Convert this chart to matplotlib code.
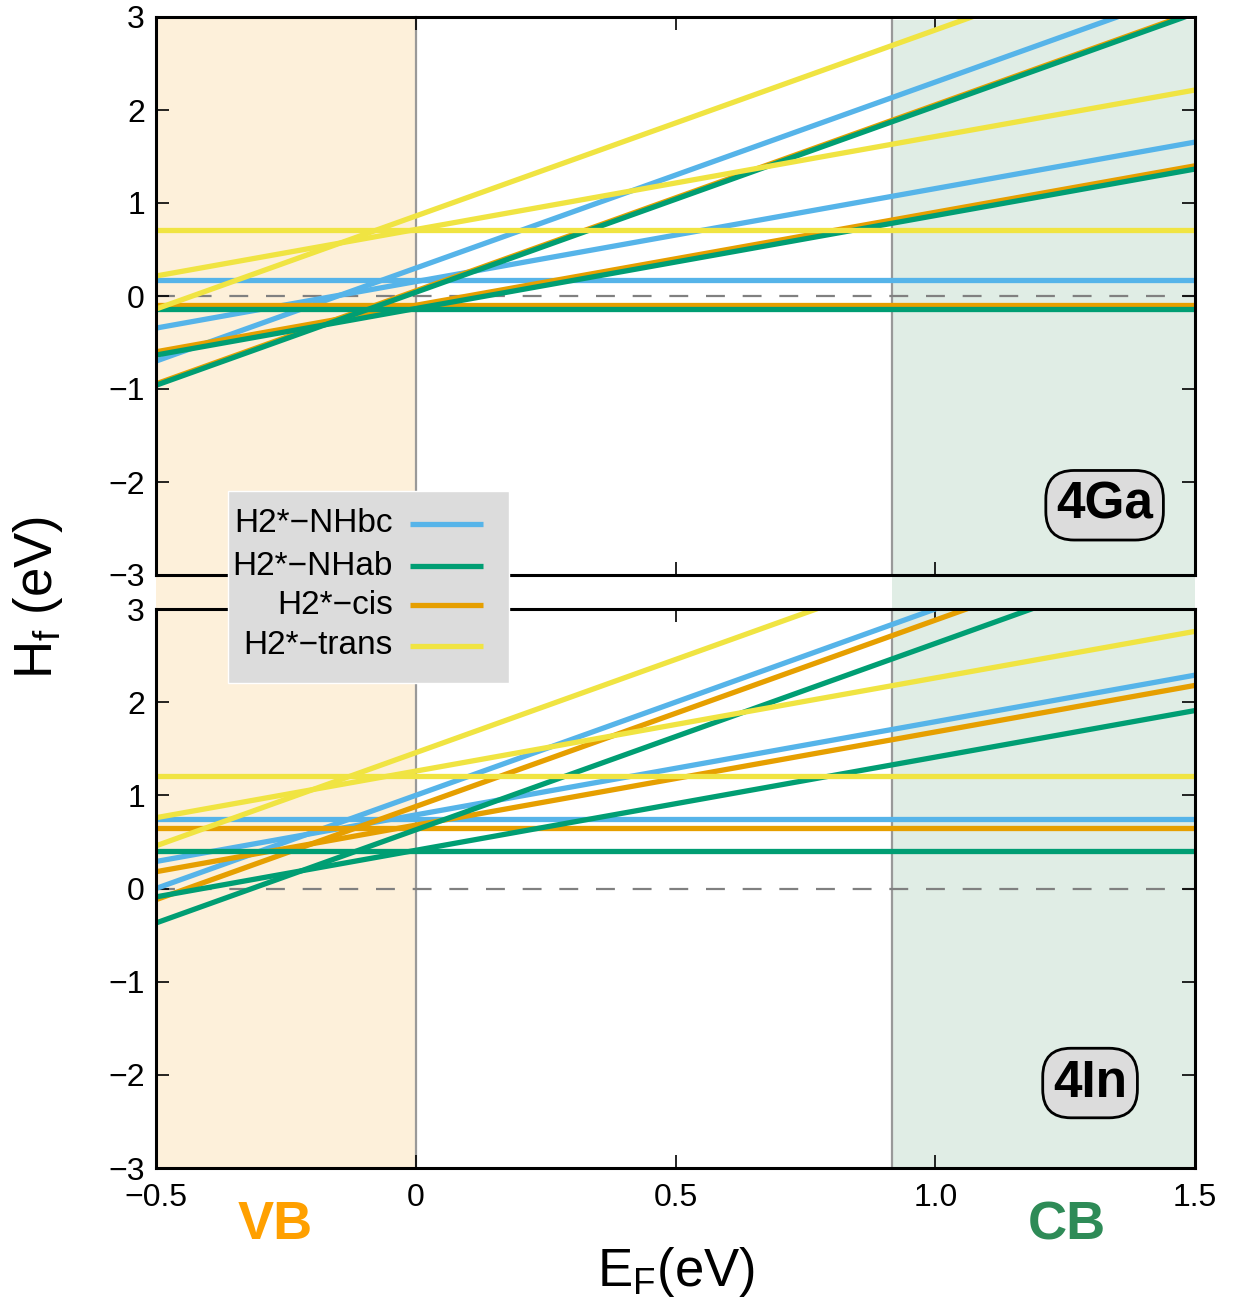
import matplotlib
matplotlib.use('Agg')
import matplotlib.pyplot as plt
import numpy as np
from matplotlib.patches import Rectangle
from matplotlib.lines import Line2D
from matplotlib.transforms import blended_transform_factory

plt.rcParams['font.family'] = ['Liberation Sans', 'DejaVu Sans']
plt.rcParams['mathtext.default'] = 'regular'

# Fermi level range and band edges (eV)
ef_range = [-0.5, 1.5]
vbm = 0.0
cbm = 0.917

defects = ['H2*\u2212NHbc', 'H2*\u2212NHab', 'H2*\u2212cis', 'H2*\u2212trans']
colors = ['#56b4e9', '#009e73', '#e69f00', '#f0e442']
charges = [0, 1, 2]

# formation energy at E_F = VBM for charge states 0, +1, +2
hf_4ga = {
    'H2*\u2212NHbc': [0.167, 0.155, 0.30],
    'H2*\u2212NHab': [-0.14, -0.135, 0.04],
    'H2*\u2212cis': [-0.10, -0.10, 0.055],
    'H2*\u2212trans': [0.715, 0.715, 0.86],
}
hf_4in = {
    'H2*\u2212NHbc': [0.75, 0.79, 1.0],
    'H2*\u2212NHab': [0.40, 0.41, 0.63],
    'H2*\u2212cis': [0.65, 0.68, 0.88],
    'H2*\u2212trans': [1.21, 1.26, 1.458],
}
panel_tags = ['4Ga', '4In']

W, H = 1243, 1306
fig = plt.figure(figsize=(W / 100, H / 100), dpi=100)
left, right = 156 / W, 1195 / W
ax_top = fig.add_axes([left, 1 - 575 / H, right - left, 558 / H])
ax_bot = fig.add_axes([left, 1 - 1168 / H, right - left, 559 / H])

# band shading runs through both panels
tr = blended_transform_factory(ax_bot.transData, fig.transFigure)
y_lo = 1 - 1168 / H
fig.add_artist(Rectangle((ef_range[0], y_lo), vbm - ef_range[0], (1168 - 17) / H,
                         transform=tr, facecolor='#fdf0da', edgecolor='none', zorder=-2))
fig.add_artist(Rectangle((cbm, y_lo), ef_range[1] - cbm, (1168 - 20) / H,
                         transform=tr, facecolor='#e0ede5', edgecolor='none', zorder=-2))
fig.add_artist(Line2D([vbm, vbm], [y_lo, 1 - 17 / H], transform=tr,
                      color='#999999', lw=1.6, zorder=-1))

order = [0, 2, 1, 3]  # blue, cis, NHab, trans from bottom to top
ef = np.array(ef_range)
for ax, data, tag in zip([ax_top, ax_bot], [hf_4ga, hf_4in], panel_tags):
    ax.set_facecolor('none')
    ax.axvline(cbm, color='#999999', lw=1.6, zorder=1)
    ax.axhline(0, color='#808080', lw=1.6, dashes=(8.5, 8), zorder=1)
    for k, i in enumerate(order):
        name = defects[i]
        for q, e0 in zip(charges, data[name]):
            ax.plot(ef, e0 + q * ef, color=colors[i], lw=3.8,
                    solid_capstyle='butt', zorder=2 + k * 0.1)
    ax.set_xlim(ef_range)
    ax.set_ylim(-3, 3)
    ax.set_yticks(range(-3, 4))
    ax.set_yticklabels(['\u2212%d' % -v if v < 0 else '%d' % v for v in range(-3, 4)])
    ax.set_xticks([-0.5, 0, 0.5, 1.0, 1.5])
    ax.set_xticklabels(['\u22120.5', '0', '0.5', '1.0', '1.5'])
    ax.tick_params(direction='in', length=9.5, width=1.2, top=True, right=True,
                   labelsize=23, pad=8)
    ax.tick_params(axis='x', pad=11)
    for s in ax.spines.values():
        s.set_linewidth(2.2)
        s.set_zorder(5)

ax_top.tick_params(labelbottom=False)

box = dict(boxstyle='round,pad=0.2,rounding_size=0.55', facecolor='#dcdcdc',
           edgecolor='black', lw=2)
ax_top.text(0.913, 0.125, '4Ga', transform=ax_top.transAxes, ha='center', va='center',
            fontsize=37, fontweight='bold', zorder=6, bbox=box)
ax_bot.text(0.899, 0.152, '4In', transform=ax_bot.transAxes, ha='center', va='center',
            fontsize=37, fontweight='bold', zorder=6, bbox=box)

# VB / CB labels under the axis
trx = blended_transform_factory(ax_bot.transData, ax_bot.transAxes)
ax_bot.text(-0.27, -0.102, 'VB', transform=trx, ha='center', va='center',
            fontsize=39, fontweight='bold', color='#ffa000')
ax_bot.text(1.254, -0.102, 'CB', transform=trx, ha='center', va='center',
            fontsize=39, fontweight='bold', color='#2e8b57')

fig.text(676 / W, 1 - 1272 / H, 'E$_F$(eV)', ha='center', va='center', fontsize=38)
fig.text(38 / W, 1 - 597 / H, 'H$_f$ (eV)', ha='center', va='center', fontsize=38,
         rotation=90)

# legend box spanning both panels
fig.add_artist(Rectangle((228 / W, 1 - 683 / H), (509 - 228) / W, (683 - 491) / H,
                         transform=fig.transFigure, facecolor='#dcdcdc',
                         edgecolor='white', lw=1, zorder=8))
rows = [524, 566, 605, 646]
for name, c, yr in zip(defects, colors, rows):
    yf = 1 - yr / H
    fig.text(393 / W, yf, name, ha='right', va='center', fontsize=24, zorder=9)
    fig.add_artist(Line2D([410 / W, 483 / W], [yf, yf], transform=fig.transFigure,
                          color=c, lw=3.8, solid_capstyle='butt', zorder=9))

fig.savefig('out.png', dpi=100)
